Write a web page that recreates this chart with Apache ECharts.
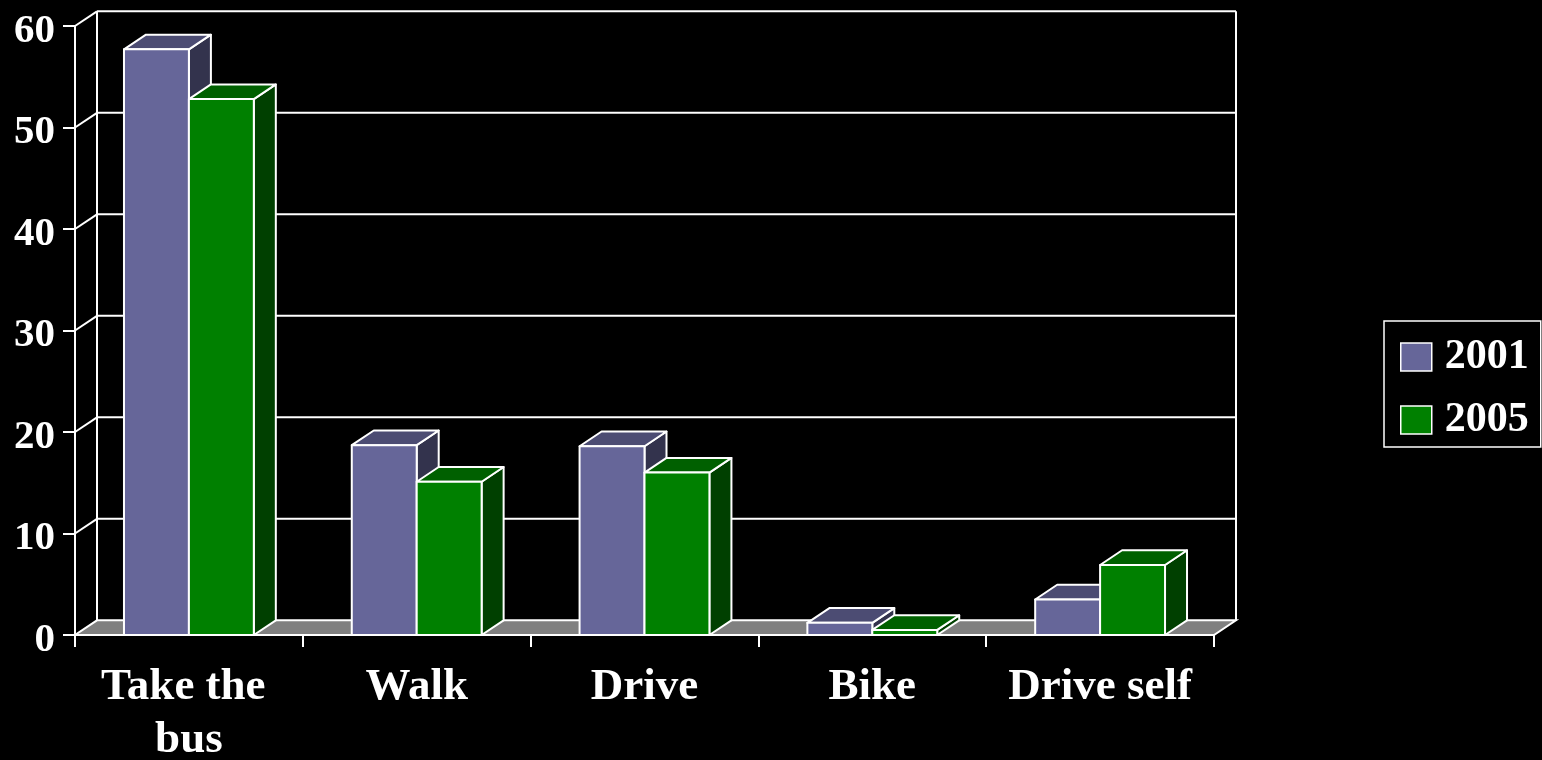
<!DOCTYPE html>
<html>
<head>
<meta charset="utf-8">
<script src="https://cdn.jsdelivr.net/npm/echarts@6/dist/echarts.min.js"></script>
<style>
html,body{margin:0;padding:0;background:#000;}
#chart{width:1542px;height:760px;}
</style>
</head>
<body>
<div id="chart"></div>
<script>
var categories = ['Take the bus', 'Walk', 'Drive', 'Bike', 'Drive self'];
var seriesNames = ['2001', '2005'];
var values2001 = [57.7, 18.7, 18.6, 1.2, 3.5];
var values2005 = [52.8, 15.1, 16.0, 0.5, 6.9];
var yTicks = [0, 10, 20, 30, 40, 50, 60];

var DX = 22, DY = -14.7;          // depth offset of the 3D view
var BAR_FRAC = 0.285;             // bar width as fraction of category band
var FONT = 'Liberation Serif';
var LW = 2;

var palettes = [
  {front: '#666699', top: '#4c4c73', side: '#33334d'},
  {front: '#008000', top: '#006000', side: '#004000'}
];

function barRenderer(seriesIdx) {
  return function (params, api) {
    var idx = api.value(0), val = api.value(1);
    var band = api.size([1, 0])[0];
    var bw = band * BAR_FRAC;
    var topPt = api.coord([idx, val]);
    var basePt = api.coord([idx, 0]);
    var xl = seriesIdx === 0 ? topPt[0] - bw : topPt[0];
    var xr = xl + bw;
    var yt = topPt[1], yb = basePt[1];
    var pal = palettes[seriesIdx];
    var st = {stroke: '#ffffff', lineWidth: LW, lineJoin: 'round'};
    function poly(pts, fill) {
      return {type: 'polygon', shape: {points: pts}, style: Object.assign({fill: fill}, st)};
    }
    return {
      type: 'group',
      children: [
        poly([[xr, yb], [xr + DX, yb + DY], [xr + DX, yt + DY], [xr, yt]], pal.side),
        poly([[xl, yt], [xr, yt], [xr + DX, yt + DY], [xl + DX, yt + DY]], pal.top),
        poly([[xl, yt], [xr, yt], [xr, yb], [xl, yb]], pal.front)
      ]
    };
  };
}

function frameRenderer(params, api) {
  var cs = params.coordSys;
  var x0 = cs.x, x1 = cs.x + cs.width;
  var v = api.value(0);
  var y = api.coord([0, v])[1];
  var y0 = api.coord([0, 0])[1];
  var yMax = api.coord([0, yTicks[yTicks.length - 1]])[1];
  var line = {stroke: '#ffffff', lineWidth: LW};
  var children = [];
  if (v === 0) {
    children.push({
      type: 'polygon',
      shape: {points: [[x0, y0], [x1, y0], [x1 + DX, y0 + DY], [x0 + DX, y0 + DY]]},
      style: {fill: '#808080', stroke: '#ffffff', lineWidth: LW}
    });
  } else {
    children.push({type: 'line', shape: {x1: x0, y1: y, x2: x0 + DX, y2: y + DY}, style: line});
    children.push({type: 'line', shape: {x1: x0 + DX, y1: y + DY, x2: x1 + DX, y2: y + DY}, style: line});
  }
  if (v === yTicks[yTicks.length - 1]) {
    children.push({type: 'line', shape: {x1: x0 + DX, y1: y0 + DY, x2: x0 + DX, y2: yMax + DY}, style: line});
    children.push({type: 'line', shape: {x1: x1 + DX, y1: y0 + DY, x2: x1 + DX, y2: yMax + DY}, style: line});
  }
  return {type: 'group', children: children};
}

var chart = echarts.init(document.getElementById('chart'));
chart.setOption({
  backgroundColor: '#000000',
  animation: false,
  grid: {left: 75, right: 328, top: 26, bottom: 125, containLabel: false, outerBoundsMode: 'none'},
  legend: {
    orient: 'vertical',
    left: 1384,
    top: 321,
    icon: 'rect',
    itemWidth: 31,
    itemHeight: 28,
    itemGap: 21,
    padding: [15, 12, 6, 16],
    borderColor: '#ffffff',
    borderWidth: 1.5,
    backgroundColor: '#000000',
    itemStyle: {borderColor: '#ffffff', borderWidth: 1.5},
    textStyle: {color: '#ffffff', fontFamily: FONT, fontWeight: 'bold', fontSize: 42, lineHeight: 40, padding: [0, 0, 0, 8]},
    data: seriesNames
  },
  xAxis: {
    type: 'category',
    data: categories,
    boundaryGap: true,
    axisLine: {show: true, lineStyle: {color: '#ffffff', width: LW}},
    axisTick: {show: true, length: 12, lineStyle: {color: '#ffffff', width: LW}},
    axisLabel: {
      color: '#ffffff', fontFamily: FONT, fontWeight: 'bold', fontSize: 45,
      lineHeight: 53, margin: 26, width: 220, overflow: 'break', interval: 0
    },
    splitLine: {show: false}
  },
  yAxis: {
    type: 'value',
    min: 0, max: 60, interval: 10,
    axisLine: {show: true, lineStyle: {color: '#ffffff', width: LW}},
    axisTick: {show: true, length: 12, lineStyle: {color: '#ffffff', width: LW}},
    axisLabel: {color: '#ffffff', fontFamily: FONT, fontWeight: 'bold', fontSize: 41, margin: 20, verticalAlign: 'top', lineHeight: 10},
    splitLine: {show: false}
  },
  series: [
    {
      type: 'custom',
      name: 'frame',
      silent: true,
      z: 1,
      renderItem: frameRenderer,
      encode: {y: 0},
      data: yTicks.map(function (v) { return [v]; })
    },
    {
      type: 'custom',
      name: seriesNames[0],
      z: 2,
      itemStyle: {color: palettes[0].front},
      renderItem: barRenderer(0),
      encode: {x: 0, y: 1},
      data: values2001.map(function (v, i) { return [i, v]; })
    },
    {
      type: 'custom',
      name: seriesNames[1],
      z: 3,
      itemStyle: {color: palettes[1].front},
      renderItem: barRenderer(1),
      encode: {x: 0, y: 1},
      data: values2005.map(function (v, i) { return [i, v]; })
    }
  ]
});
</script>
</body>
</html>
